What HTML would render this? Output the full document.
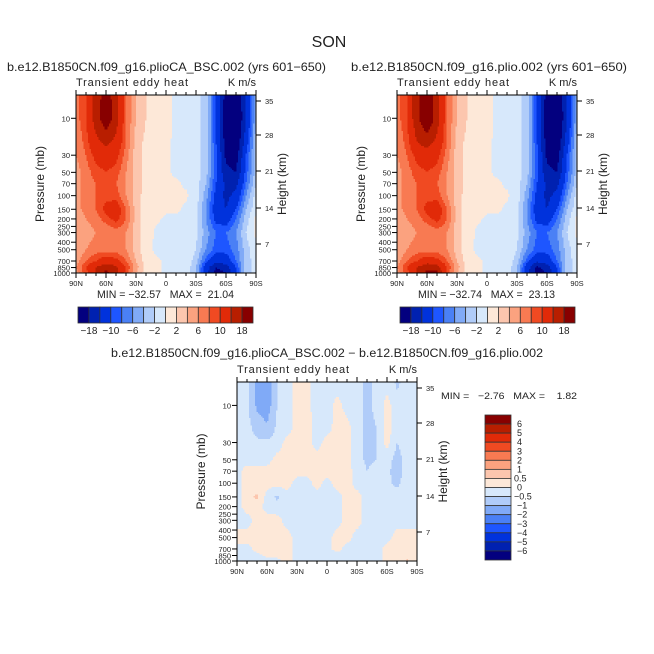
<!DOCTYPE html>
<html><head><meta charset="utf-8"><style>
html,body{margin:0;padding:0;background:#fff}
svg{display:block}
text{font-family:"Liberation Sans",sans-serif;fill:#222;white-space:pre}
</style></head><body>
<svg id="chart" width="654" height="654" viewBox="0 0 654 654" xmlns="http://www.w3.org/2000/svg" xml:space="preserve">
<rect width="654" height="654" fill="#fff"/>
<text x="329" y="47" font-size="16" text-anchor="middle">SON</text>
<g id="layer"></g>
</svg>
<script>
// ---- data ----
const lats = [90,80,70,60,50,40,30,20,10,0,-10,-20,-30,-40,-50,-60,-70,-80,-90];
const plevs = [5,10,20,30,50,70,100,150,200,300,500,700,850,1000];
const latTicks = ["90N","60N","30N","0","30S","60S","90S"];
const pTicks = [10,30,50,70,100,150,200,250,300,400,500,700,850,1000];
const hTicks = [35,28,21,14,7];
const levelsMain = [-18,-14,-10,-8,-6,-4,-2,0,2,4,6,8,10,14,18];
const labelsMain = ["−18","−10","−6","−2","2","6","10","18"];
const levelsDiff = [-6,-5,-4,-3,-2,-1,-0.5,0,0.5,1,2,3,4,5,6];
const labelsDiff = ["6","5","4","3","2","1","0.5","0","−0.5","−1","−2","−3","−4","−5","−6"];
const colors = ["#03007f","#0021b0","#0032dc","#1e56ff","#4a80f5","#80aaf7","#b0ccf9","#d7e8fb","#fde8d8","#fcc6ae","#fba27f","#f87a52","#f04a22","#e12a08","#b81e00","#880000"];
const fieldA = [
[7,10,16,20,16,8,4,2,1,0.5,-0.3,-0.3,-1,-3,-10,-20,-22,-14,-4],
[7,10,16,21,16,8,4,2,1,0.5,-0.3,-0.3,-1,-3,-10,-22,-24,-14,-4],
[6,9,13,15,13,8,3,1.5,0.5,0.3,-0.3,-0.3,-1,-3,-10,-20,-22,-12,-3],
[6,8,11,12,11,7,3,1.5,0.5,0.3,-0.3,-0.3,-1,-3,-9,-19,-20,-10,-3],
[5,7,9,10,9,6,3,1.5,0.5,0.3,-0.3,-0.5,-1,-3,-9,-17,-18,-9,-3],
[5,7,8,9,8,6,3,1.5,0.5,0.3,0.3,-0.3,-1,-4,-10,-15,-15,-8,-2],
[5,7,8,9,9,6,3,1,0.5,0.5,0.3,0.3,-1,-5,-11,-15,-13,-6,-1],
[5,7,8,11,12,8,3,1,0.5,0.3,0.3,-0.3,-1,-6,-12,-14,-10,-4,-0.5],
[4,6,7,9,11,8,3,1,0.3,-0.3,-0.3,-0.3,-1,-6,-11,-12,-8,-3,0.5],
[4,5,6,6,7,6,3,1,-0.3,-0.5,-0.3,-0.3,-1.5,-5,-8,-8,-6,-2,0.5],
[4,6,7,7,7,6,3,0.5,-0.3,-0.5,-0.3,-0.3,-2,-6,-9,-9,-7,-3,-0.5],
[5,8,10,12,11,8,4,1,0.3,-0.3,-0.3,-0.5,-3,-9,-13,-12,-8,-3,-1],
[6,10,14,17,15,10,5,1,0.3,-0.3,-0.3,-0.5,-4,-12,-18,-16,-10,-3,-1],
[5,9,14,19,15,9,4,1,0.3,-0.3,-0.3,-0.5,-4,-12,-20,-18,-10,-3,-1]];
const fieldB = [
[7,10,17,21,16,8,4,2,1,0.5,-0.3,-0.3,-1,-3,-10,-20,-22,-14,-4],
[7,10,17,22,16,8,4,2,1,0.5,-0.3,-0.3,-1,-3,-10,-22,-24,-14,-4],
[6,9,14,16,13,8,3,1.5,0.5,0.3,-0.3,-0.3,-1,-3,-10,-20,-22,-12,-3],
[6,8,11,12,11,7,3,1.5,0.5,0.3,-0.3,-0.3,-1,-3,-9,-19,-20,-10,-3],
[5,7,9,10,9,6,3,1.5,0.5,0.3,-0.3,-0.5,-1,-3,-9,-17,-18,-9,-3],
[5,7,8,9,8,6,3,1.5,0.5,0.3,0.3,-0.3,-1,-4,-10,-15,-15,-8,-2],
[5,7,8,9,9,6,3,1,0.5,0.5,0.3,0.3,-1,-5,-11,-15,-13,-6,-1],
[5,7,8,11,12,8,3,1,0.5,0.3,0.3,-0.3,-1,-6,-12,-14,-10,-4,-0.5],
[4,6,7,9,11,8,3,1,0.3,-0.3,-0.3,-0.3,-1,-6,-11,-12,-8,-3,0.5],
[4,5,6,6,7,6,3,1,-0.3,-0.5,-0.3,-0.3,-1.5,-5,-8,-8,-6,-2,0.5],
[4,6,7,7,7,6,3,0.5,-0.3,-0.5,-0.3,-0.3,-2,-6,-9,-9,-7,-3,-0.5],
[5,8,10,12,11,8,4,1,0.3,-0.3,-0.3,-0.5,-3,-9,-13,-12,-8,-3,-1],
[6,10,14,17,16,10,5,1,0.3,-0.3,-0.3,-0.5,-4,-12,-19,-16,-10,-3,-1],
[5,9,14,19,19,9,4,1,0.3,-0.3,-0.3,-0.5,-4,-12,-20,-18,-10,-3,-1]];
const fieldD = [
[-0.3,-0.4,-1.2,-1.4,-0.5,-0.3,0.2,0.2,-0.3,-0.3,-0.3,-0.3,-0.3,-0.6,-0.4,-0.2,-0.6,-0.3,-0.3],
[-0.3,-0.4,-1.1,-1.3,-0.5,-0.3,0.2,0.2,-0.3,-0.3,0.2,-0.2,-0.3,-0.6,-0.4,0.2,-0.3,-0.2,-0.2],
[-0.2,-0.3,-0.7,-0.9,-0.4,-0.2,0.2,0.2,-0.2,-0.2,0.2,0.2,-0.3,-0.6,-0.5,0.2,-0.2,-0.2,-0.2],
[-0.2,-0.3,-0.4,-0.4,-0.3,0.2,0.2,0.2,-0.2,0.2,0.2,0.2,-0.3,-0.6,-0.5,0.2,-0.5,-0.3,-0.2],
[-0.2,-0.2,-0.2,-0.2,0.2,0.2,0.2,0.2,0.2,0.2,0.2,0.2,-0.3,-0.6,-0.5,-0.3,-0.7,-0.3,-0.2],
[-0.2,0.2,0.2,0.2,0.2,0.2,0.2,0.2,0.2,0.2,0.2,0.2,-0.2,-0.5,-0.3,-0.4,-0.7,-0.3,-0.2],
[-0.2,0.2,0.2,0.2,0.2,0.2,-0.2,-0.2,0.2,-0.2,0.2,0.2,-0.2,-0.3,-0.2,-0.4,-0.6,-0.3,-0.2],
[-0.2,0.3,0.6,-0.2,-0.6,-0.2,-0.2,-0.2,-0.2,-0.2,-0.2,0.2,0.2,-0.2,-0.2,-0.3,-0.3,-0.2,-0.2],
[-0.2,0.2,0.2,-0.2,-0.3,-0.2,-0.2,-0.2,-0.2,-0.2,-0.2,0.2,0.2,-0.2,-0.2,-0.2,-0.2,-0.2,-0.2],
[-0.2,-0.2,0.2,0.2,0.2,-0.2,-0.2,-0.2,-0.2,-0.2,-0.2,0.2,0.2,-0.2,-0.2,-0.2,-0.2,-0.2,-0.2],
[0.2,0.2,0.2,0.2,0.2,0.2,-0.2,-0.2,-0.2,-0.2,0.2,0.2,-0.2,-0.2,-0.2,-0.2,0.2,0.2,0.2],
[-0.2,-0.2,0.2,0.2,0.2,0.2,-0.2,-0.2,-0.2,-0.2,0.2,-0.2,-0.2,-0.2,-0.2,0.2,0.2,0.2,0.2],
[-0.2,-0.2,-0.2,0.2,0.2,0.2,-0.2,-0.2,-0.2,-0.2,-0.2,-0.2,-0.2,-0.2,-0.2,0.2,0.2,0.3,0.3],
[-0.2,-0.2,-0.3,-0.6,-0.2,0.2,-0.2,-0.2,-0.2,-0.2,-0.2,-0.2,-0.2,-0.2,-0.2,0.2,0.3,0.6,0.3]];

const NS="http://www.w3.org/2000/svg";
const layer=document.getElementById('layer');
function mk(tag,attrs,parent,txt){const e=document.createElementNS(NS,tag);for(const k in attrs)e.setAttribute(k,attrs[k]);if(txt!==undefined)e.textContent=txt;(parent||layer).appendChild(e);return e;}
function colorIdx(v,levels){let i=0;while(i<levels.length&&v>=levels[i])i++;return i;}

function panel(o){
  const g=mk('g',{});
  
  
  const x0=o.x0,x1=o.x1,y0=o.y0,y1=o.y1,W=x1-x0,H=y1-y0;
  const lpTop=Math.log10(plevs[0]),lpBot=Math.log10(1000);
  const xs=lat=>x0+(90-lat)/180*W;
  const ys=p=>y0+(Math.log10(p)-lpTop)/(lpBot-lpTop)*H;
  const cells=mk('g',{},g);
  
  
  const step=1.5;
  const py=plevs.map(p=>ys(p));
  const px=lats.map(l=>xs(l));
  for(let yy=y0;yy<y1;yy+=step){
    const yc=yy+step/2;
    let r=0;while(r<py.length-2&&yc>py[r+1])r++;
    let ty=(yc-py[r])/(py[r+1]-py[r]);ty=Math.max(0,Math.min(1,ty));
    let runStart=x0,runCol=-1;
    for(let xx=x0;xx<=x1;xx+=step){
      let ci=-1;
      if(xx<x1){
        const xc=xx+step/2;
        let c=0;while(c<px.length-2&&xc>px[c+1])c++;
        let tx=(xc-px[c])/(px[c+1]-px[c]);tx=Math.max(0,Math.min(1,tx));
        const f=o.field;
        const v=(f[r][c]*(1-tx)+f[r][c+1]*tx)*(1-ty)+(f[r+1][c]*(1-tx)+f[r+1][c+1]*tx)*ty;
        ci=colorIdx(v,o.levels);
      }
      if(ci!==runCol){
        if(runCol>=0){const rc=mk('rect',{x:runStart,y:yy,width:Math.min(xx,x1)-runStart+0.4,height:Math.min(step,y1-yy)+0.4,fill:colors[runCol]},cells);
          
          }
        runStart=xx;runCol=ci;
      }
    }
  }
  const fr=mk('rect',{x:x0,y:y0,width:W,height:H,fill:'none',stroke:'#000','stroke-width':1},g);
  
  
  for(let l=90;l>=-90;l-=10){
    const x=xs(l),major=(l%30===0);
    mk('line',{x1:x,x2:x,y1:y1,y2:y1+(major?5:3),stroke:'#000','stroke-width':1},g);
    mk('line',{x1:x,x2:x,y1:y0,y2:y0-(major?5:3),stroke:'#000','stroke-width':1},g);
  }
  latTicks.forEach((t,i)=>{const tt=mk('text',{x:xs(90-30*i),y:y1+13,'font-size':7.5,'text-anchor':'middle'},g,t);
    
    });
  pTicks.forEach(p=>{const y=ys(p);mk('line',{x1:x0-5,x2:x0,y1:y,y2:y,stroke:'#000','stroke-width':1},g);
    const tt=mk('text',{x:x0-6,y:y+3,'font-size':7.5,'text-anchor':'end'},g,String(p));
    
    });
  const hpx=o.hpos;
  hTicks.forEach((h,i)=>{const y=hpx[i];mk('line',{x1:x1,x2:x1+5,y1:y,y2:y,stroke:'#000','stroke-width':1},g);
    const tt=mk('text',{x:x1+9,y:y+3,'font-size':7.5},g,String(h));
    
    });
  const t1=mk('text',{x:x0,y:y0-9,'font-size':11,textLength:112},g,'Transient eddy heat');
  
  
  const t2=mk('text',{x:x1,y:y0-9,'font-size':11,'text-anchor':'end'},g,'K m/s');
  
  
  const yt=mk('text',{x:0,y:0,'font-size':12,'text-anchor':'middle',transform:`translate(${x0-32},${(y0+y1)/2}) rotate(-90)`},g,'Pressure (mb)');
  
  
  const ht=mk('text',{x:0,y:0,'font-size':12,'text-anchor':'middle',transform:`translate(${x1+30},${(y0+y1)/2}) rotate(-90)`},g,'Height (km)');
  
  
  return g;
}

function hbar(x0,x1,y0,y1,labels,name){
  const g=mk('g',{});
  
  
  const w=(x1-x0)/colors.length;
  colors.forEach((c,i)=>{const r=mk('rect',{x:x0+i*w,y:y0,width:w,height:y1-y0,fill:c,stroke:'#333','stroke-width':0.8},g);
    
    });
  labels.forEach((t,i)=>{const tt=mk('text',{x:x0+(1+2*i)*w,y:y1+11,'font-size':10,'text-anchor':'middle'},g,t);
    
    });
}
function vbar(x0,x1,y0,y1,labels,name){
  const g=mk('g',{});
  
  
  const h=(y1-y0)/colors.length;
  colors.slice().reverse().forEach((c,i)=>{const r=mk('rect',{x:x0,y:y0+i*h,width:x1-x0,height:h,fill:c,stroke:'#333','stroke-width':0.8},g);
    
    });
  labels.forEach((t,i)=>{const tt=mk('text',{x:x1+3+(t.length>2?0:3),y:y0+(i+1)*h+3,'font-size':9},g,t);
    
    });
}
function txt(x,y,s,size,anchor,name,len){
  const a={x:x,y:y,'font-size':size,'text-anchor':anchor||'start'};
  if(len){a.textLength=len;a.lengthAdjust='spacingAndGlyphs';}
  const t=mk('text',a,layer,s);
  
  
}

txt(7,71,'b.e12.B1850CN.f09_g16.plioCA_BSC.002 (yrs 601−650)',12,'start','subtitle-left',319);
txt(351,71,'b.e12.B1850CN.f09_g16.plio.002 (yrs 601−650)',12,'start','subtitle-right',276);
panel({name:'panel-plioCA',x0:76,x1:256,y0:95,y1:273,field:fieldA,levels:levelsMain,hpos:[101,135,171,208,244]});
txt(97,298,'MIN = −32.57   MAX =  21.04',11,'start','min-max-left',137);
hbar(78,253,307,323,labelsMain,'colorbar-left');
panel({name:'panel-plio',x0:397,x1:577,y0:95,y1:273,field:fieldB,levels:levelsMain,hpos:[101,135,171,208,244]});
txt(418,298,'MIN = −32.74   MAX =  23.13',11,'start','min-max-right',137);
hbar(400,575,307,323,labelsMain,'colorbar-right');
txt(327,357,'b.e12.B1850CN.f09_g16.plioCA_BSC.002 − b.e12.B1850CN.f09_g16.plio.002',11.5,'middle','subtitle-diff',432);
panel({name:'panel-diff',x0:237,x1:417,y0:382,y1:561,field:fieldD,levels:levelsDiff,hpos:[388,423,459,496,532]});
txt(441,399,'MIN =   −2.76   MAX =    1.82',9.5,'start','min-max-diff',136);
vbar(485,511,415,560,labelsDiff,'colorbar-diff');
</script>
</body></html>
